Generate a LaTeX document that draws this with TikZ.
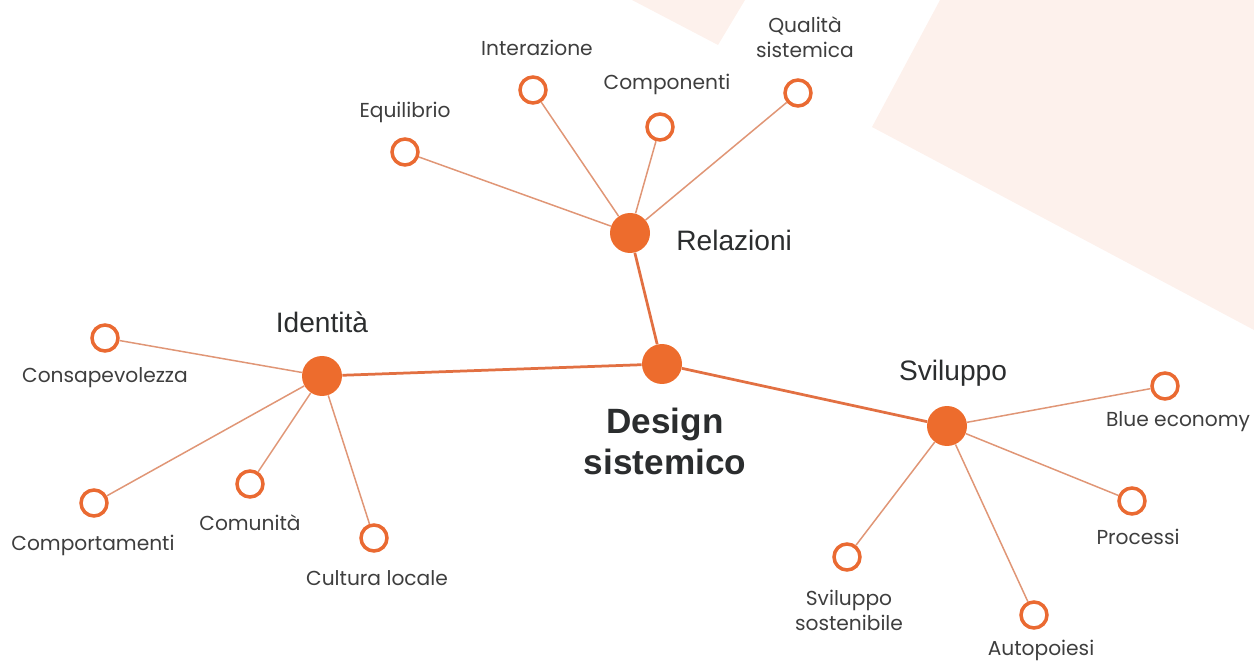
\documentclass[tikz,border=0pt]{standalone}
\usepackage{fontspec}
\setmainfont{Poppins}
\newfontfamily\hubfont{Liberation Sans}
\definecolor{bgpink}{RGB}{253,241,236}
\definecolor{hubor}{RGB}{237,108,45}
\definecolor{ringor}{RGB}{234,106,50}
\definecolor{spokecol}{RGB}{224,150,118}
\definecolor{trunkcol}{RGB}{226,112,66}
\definecolor{textgray}{RGB}{62,62,62}
\definecolor{hubtext}{RGB}{43,45,46}
\begin{document}
\begin{tikzpicture}[x=0.02cm,y=-0.02cm,
  hub/.style={circle, fill=hubor, minimum size=8mm, inner sep=0pt},
  leaf/.style={circle, draw=ringor, line width=0.7mm, fill=white, minimum size=5.2mm, inner sep=0pt},
  spoke/.style={draw=spokecol, line width=0.3mm},
  trunk/.style={draw=trunkcol, line width=0.55mm},
  lbl/.style={text=textgray, font=\fontsize{11.5}{14.2}\selectfont, align=center, inner sep=0pt},
  hublbl/.style={text=hubtext, font=\hubfont\fontsize{16}{19}\selectfont, inner sep=0pt},
  mainlbl/.style={text=hubtext, font=\hubfont\bfseries\fontsize{20}{23.3}\selectfont, align=center, inner sep=0pt}]
\useasboundingbox (0,0) rectangle (1254,661);
\fill[bgpink] (940,0) -- (1254,0) -- (1254,330) -- (872,127) -- cycle;
\fill[bgpink] (632,0) -- (745,0) -- (718,45) -- cycle;

% hubs
\node[hub] (design) at (662,364) {};
\node[hub] (rel) at (630,233) {};
\node[hub] (ide) at (322,376) {};
\node[hub] (svi) at (947,426) {};

% leaves
\node[leaf] (equ) at (405,152) {};
\node[leaf] (int) at (533,90) {};
\node[leaf] (com) at (660,127) {};
\node[leaf] (qua) at (798,93) {};
\node[leaf] (cons) at (105,338) {};
\node[leaf] (comp) at (94,503) {};
\node[leaf] (comu) at (250,484) {};
\node[leaf] (cult) at (374,538) {};
\node[leaf] (blue) at (1165,386) {};
\node[leaf] (proc) at (1132,501) {};
\node[leaf] (sost) at (847,557) {};
\node[leaf] (auto) at (1034,615) {};

% connectors
\draw[trunk] (design) -- (rel);
\draw[trunk] (design) -- (ide);
\draw[trunk] (design) -- (svi);
\foreach \l in {equ,int,com,qua} \draw[spoke] (rel) -- (\l);
\foreach \l in {cons,comp,comu,cult} \draw[spoke] (ide) -- (\l);
\foreach \l in {blue,proc,sost,auto} \draw[spoke] (svi) -- (\l);

% labels
\node[mainlbl] (tdesign) at (665,441) {Design\\sistemico};
\node[hublbl, anchor=west] (trel) at (676,240) {Relazioni};
\node[hublbl] (tide) at (322,322) {Identità};
\node[hublbl] (tsvi) at (953,373) {Sviluppo};

\node[lbl] (tequ) at (405,112) {Equilibrio};
\node[lbl] (tint) at (537,48) {Interazione};
\node[lbl] (tcom) at (667,84) {Componenti};
\node[lbl] (tqua) at (805,37) {Qualità\\sistemica};
\node[lbl] (tcons) at (105,378) {Consapevolezza};
\node[lbl] (tcomp) at (93,545) {Comportamenti};
\node[lbl] (tcomu) at (250,523) {Comunità};
\node[lbl] (tcult) at (377,578) {Cultura locale};
\node[lbl] (tblue) at (1178,422) {Blue economy};
\node[lbl] (tproc) at (1138,537) {Processi};
\node[lbl] (tsost) at (849,610) {Sviluppo\\sostenibile};
\node[lbl] (tauto) at (1041,650) {Autopoiesi};
\end{tikzpicture}
\end{document}
